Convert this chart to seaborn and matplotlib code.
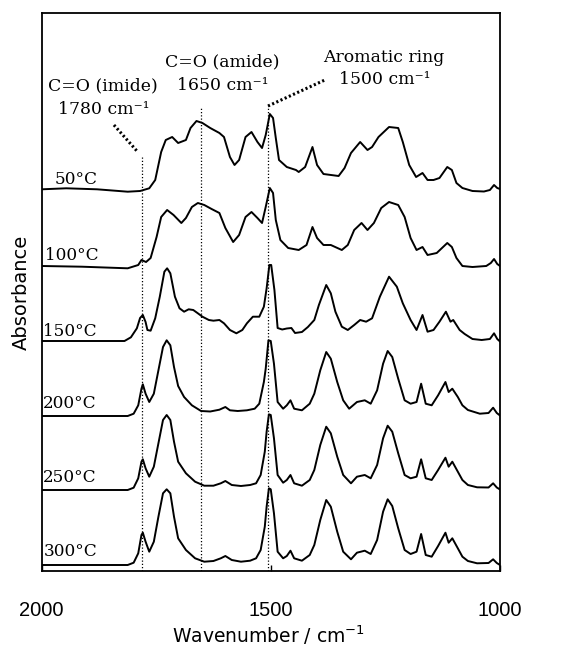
import matplotlib
matplotlib.use("Agg")
import matplotlib.pyplot as plt
import numpy as np
import pandas as pd
import seaborn as sns

# ---------------- data ----------------
temps = ["50°C", "100°C", "150°C", "200°C", "250°C", "300°C"]
offsets = [381, 304, 229, 155, 81, 6]          # vertical stacking offset of each spectrum
label_wn = [1971, 1993, 1996, 1996, 1996, 1996]  # where each temperature label starts
label_y = [391, 316, 239, 167, 94, 19]

wn_50 = [1999, 1946, 1879, 1812, 1785, 1765, 1752, 1739, 1729, 1715, 1702, 1685, 1675, 1662,
         1649, 1632, 1612, 1602, 1589, 1579, 1569, 1555, 1542, 1529, 1519, 1511, 1502, 1495,
         1489, 1482, 1465, 1445, 1439, 1425, 1409, 1399, 1385, 1352, 1339, 1325, 1305, 1289,
         1279, 1265, 1242, 1222, 1212, 1198, 1183, 1169, 1158, 1145, 1132, 1115, 1105, 1095,
         1082, 1060, 1035, 1022, 1013, 1006, 1000]
ab_50 = [0.7, 1.7, 0.7, -1.7, -1, 1.7, 10, 38, 50, 53, 47, 50, 62, 69,
         67, 62, 57, 53, 33, 25, 30, 53, 58, 48, 42, 55, 76, 72,
         52, 30, 23, 20, 18, 23, 43, 25, 16, 14, 22, 37, 48, 40,
         43, 53, 63, 62, 48, 25, 13, 17, 10, 10, 12, 23, 20, 7,
         2, -1, -1.5, 0, 5, 2, 1]

wn_100 = [1999, 1912, 1812, 1789, 1782, 1772, 1762, 1749, 1739, 1726, 1712, 1695, 1685, 1672,
          1659, 1645, 1629, 1612, 1599, 1582, 1569, 1555, 1542, 1529, 1519, 1511, 1502, 1495,
          1489, 1479, 1462, 1439, 1422, 1409, 1399, 1385, 1369, 1345, 1332, 1318, 1302, 1289,
          1275, 1259, 1242, 1222, 1208, 1195, 1182, 1169, 1158, 1138, 1115, 1105, 1095, 1082,
          1060, 1030, 1020, 1013, 1006, 1000]
ab_100 = [1, 0.3, -1.3, 2, 7, 5, 9, 30, 50, 57, 52, 44, 49, 60,
          64, 62, 58, 54, 39, 25, 32, 50, 55, 49, 44, 60, 79, 74,
          47, 27, 19, 17, 22, 40, 29, 22, 22, 17, 22, 37, 44, 37,
          44, 59, 65, 62, 50, 29, 17, 20, 12, 14, 24, 20, 9, 1,
          0, 1, 4, 8, 3, 1]

wn_150 = [1999, 1912, 1819, 1805, 1792, 1785, 1779, 1773, 1769, 1762, 1752, 1742, 1732, 1726,
          1719, 1709, 1699, 1689, 1679, 1669, 1659, 1649, 1635, 1625, 1612, 1602, 1589, 1575,
          1562, 1552, 1539, 1525, 1515, 1509, 1503, 1499, 1492, 1485, 1475, 1465, 1455, 1447,
          1432, 1419, 1405, 1395, 1379, 1369, 1359, 1345, 1332, 1318, 1305, 1292, 1279, 1262,
          1242, 1225, 1212, 1195, 1182, 1169, 1158, 1145, 1132, 1118, 1108, 1102, 1088, 1077,
          1060, 1040, 1022, 1013, 1006, 1000]
ab_150 = [1, 1, 1, 4.7, 13.7, 24, 27, 20, 12, 11.3, 23.7, 45.3, 70.3, 73.7,
          68.7, 45.3, 33.7, 30.3, 32.7, 32, 28.7, 25.3, 22, 21.3, 22, 18.7, 12, 8.7,
          12, 18.7, 25.3, 25.3, 35.3, 53.7, 77, 77, 52, 14, 12.5, 13.5, 14, 9,
          10, 15, 22, 37, 57, 48.7, 30.3, 15.3, 12, 17, 22, 20.3, 23.7, 45.3,
          65.3, 55.3, 38.7, 22, 12, 27, 10.3, 12, 20.3, 30.3, 20.3, 22, 12, 8,
          3, 2, 3, 8.7, 3, 0.5]

wn_200 = [1999, 1912, 1812, 1799, 1789, 1782, 1779, 1773, 1765, 1755, 1745, 1735, 1727, 1719,
          1711, 1702, 1689, 1672, 1652, 1632, 1612, 1599, 1589, 1572, 1552, 1535, 1525, 1515,
          1511, 1505, 1500, 1493, 1485, 1473, 1465, 1457, 1449, 1432, 1415, 1405, 1392, 1379,
          1369, 1355, 1342, 1329, 1312, 1295, 1282, 1268, 1255, 1245, 1235, 1222, 1208, 1195,
          1182, 1172, 1162, 1149, 1135, 1119, 1112, 1104, 1092, 1082, 1070, 1044, 1025, 1015,
          1007, 1000]
ab_200 = [0, 0, 0, 2.3, 10.7, 27.3, 31.7, 22.3, 14, 22.3, 45.7, 69, 75.7, 70.7,
          49, 30, 19, 10.7, 5, 4.5, 6.3, 9, 5.7, 5, 5.7, 7.3, 12.3, 34,
          47.3, 75.7, 75, 52.3, 14, 7.3, 10.7, 15.7, 7.3, 5.7, 12.3, 22.3, 45.7, 64,
          57.3, 34, 15.7, 7.3, 14, 15.7, 12.3, 25.7, 52.3, 65, 59, 37.3, 15.7, 12.3,
          14, 32.3, 12.3, 10.7, 20.7, 34, 24, 27.3, 19, 10.7, 6, 2.3, 3, 8.3,
          3, 0.5]

wn_250 = [1999, 1812, 1799, 1789, 1782, 1779, 1773, 1765, 1755, 1745, 1735, 1727, 1719, 1711,
          1702, 1685, 1665, 1645, 1625, 1609, 1599, 1585, 1565, 1545, 1532, 1522, 1513, 1509,
          1504, 1500, 1493, 1485, 1473, 1465, 1457, 1449, 1432, 1415, 1405, 1392, 1379, 1369,
          1355, 1342, 1325, 1312, 1295, 1282, 1268, 1255, 1245, 1235, 1222, 1208, 1195, 1182,
          1172, 1162, 1149, 1135, 1119, 1112, 1104, 1092, 1082, 1070, 1050, 1025, 1015, 1007,
          1000]
ab_250 = [0, 0, 2.3, 11.7, 28.3, 30.7, 21.7, 13.3, 23.3, 46.7, 70, 75, 70, 48.3,
          28.3, 16.7, 8.3, 4.3, 4.3, 6.7, 9, 5, 4, 5, 6.7, 15, 38.3, 58.3,
          75.7, 75, 51.7, 15, 7.3, 10, 15, 6.7, 4.3, 10, 20, 45, 63.3, 56.7,
          33.3, 15, 6.7, 13.3, 15, 11.7, 25, 51.7, 64.3, 58.3, 36.7, 15, 11.7, 13.3,
          30.7, 11.7, 10, 20, 32.3, 23.3, 28.3, 18.3, 10, 5, 2.7, 2.5, 6.7, 2.5,
          0.5]

wn_300 = [1999, 1812, 1799, 1789, 1782, 1779, 1773, 1765, 1755, 1745, 1735, 1727, 1719, 1711,
          1702, 1685, 1665, 1645, 1625, 1609, 1599, 1585, 1565, 1545, 1532, 1522, 1513, 1509,
          1504, 1500, 1493, 1485, 1473, 1465, 1457, 1449, 1432, 1415, 1405, 1392, 1379, 1369,
          1355, 1342, 1325, 1312, 1295, 1282, 1268, 1255, 1245, 1235, 1222, 1208, 1195, 1182,
          1172, 1162, 1149, 1135, 1119, 1112, 1104, 1092, 1082, 1070, 1050, 1025, 1015, 1007,
          1000]
ab_300 = [0, 0, 2.3, 11.7, 30, 32.3, 23.3, 13.3, 23.3, 48.3, 71.7, 75.7, 71.7, 48.3,
          26.7, 15, 6.7, 3.3, 4, 6.7, 9, 5, 3.3, 4.3, 6.7, 15, 38.3, 58.3,
          76.7, 75.7, 51.7, 13.3, 6.7, 9, 14.3, 6.7, 4.3, 10, 20, 45, 65, 58.3,
          33.3, 13.3, 5.7, 12.3, 14.3, 11, 25, 53.3, 65.7, 59, 36.7, 15, 11, 13.3,
          31, 10, 8.3, 19, 32.3, 22.3, 26.7, 16.7, 8.3, 4, 1.7, 2, 5.7, 2,
          0]

wn_lists = [wn_50, wn_100, wn_150, wn_200, wn_250, wn_300]
ab_lists = [ab_50, ab_100, ab_150, ab_200, ab_250, ab_300]

# band markers
band_wn = [1781, 1653, 1506]
band_top = [414, 463, 465]
band_names = ["C=O (imide)", "C=O (amide)", "Aromatic ring"]
band_values = ["1780 cm⁻¹", "1650 cm⁻¹", "1500 cm⁻¹"]
name_pos_wn = [1866, 1605, 1254]
name_pos_y = [485, 509, 514]
value_pos_wn = [1864, 1604, 1251]
value_pos_y = [462, 485, 491]
imide_leader_wn = [1842, 1790]
imide_leader_y = [446, 419]
arom_leader_wn = [1506, 1382]
arom_leader_y = [465, 491]

x_ticks = [2000, 1500, 1000]

# ---------------- build table ----------------
frames = []
for t, off, wn, ab in zip(temps, offsets, wn_lists, ab_lists):
    frames.append(pd.DataFrame({"wn": wn, "y": np.asarray(ab) + off, "temp": t}))
df = pd.concat(frames, ignore_index=True)

# ---------------- plot ----------------
sns.set_theme(style="white")
plt.rcParams["font.family"] = ["DejaVu Sans"]

fig = plt.figure(figsize=(5.7, 6.47), dpi=100)
ax = fig.add_axes([41.5 / 570, 1 - 571 / 647, 458.5 / 570, 558 / 647])

sns.lineplot(data=df, x="wn", y="y", units="temp", estimator=None, sort=False,
             color="black", linewidth=1.4, legend=False, ax=ax)
for ln in ax.get_lines():
    ln.set_solid_joinstyle("round")

ax.vlines(band_wn, 0, band_top, colors="black", linestyles=(0, (1, 1.6)), linewidth=0.9)
ax.plot(imide_leader_wn, imide_leader_y, color="black", linestyle=(0, (0.7, 0.8)), linewidth=2.2)
ax.plot(arom_leader_wn, arom_leader_y, color="black", linestyle=(0, (0.7, 0.8)), linewidth=2.2)

serif = ["DejaVu Serif"]
for name, x, y in zip(band_names, name_pos_wn, name_pos_y):
    ax.text(x, y, name, ha="center", va="center", family=serif, fontsize=12.4, color="black")
for val, x, y in zip(band_values, value_pos_wn, value_pos_y):
    ax.text(x, y, val, ha="center", va="center", family=serif, fontsize=12.4, color="black")
for t, x, y in zip(temps, label_wn, label_y):
    ax.text(x, y, t, ha="left", va="center", family=serif, fontsize=12.2, color="black")

ax.set_xlim(2000, 1000)
ax.set_ylim(0, 558)
ax.set_xticks(x_ticks)
ax.set_xticklabels([str(v) for v in x_ticks], family=["Liberation Sans"], fontsize=14.5)
ax.set_yticks([])
ax.tick_params(axis="x", direction="in", length=4, width=1, pad=21.5, colors="black", bottom=True)

for sp in ax.spines.values():
    sp.set_color("black")
    sp.set_linewidth(1.3)
    sp.set_visible(True)

ax.set_xlabel("Wavenumber / cm$^{\\mathregular{-1}}$", fontsize=13.5, color="black")
ax.xaxis.label.set_va("baseline")
ax.xaxis.set_label_coords(0.494, -0.1285)
ax.set_ylabel("Absorbance", fontsize=14, color="black")
ax.yaxis.label.set_va("center")
ax.yaxis.set_label_coords(-0.043, 0.5)

fig.savefig("out.png", dpi=100, facecolor="white")
